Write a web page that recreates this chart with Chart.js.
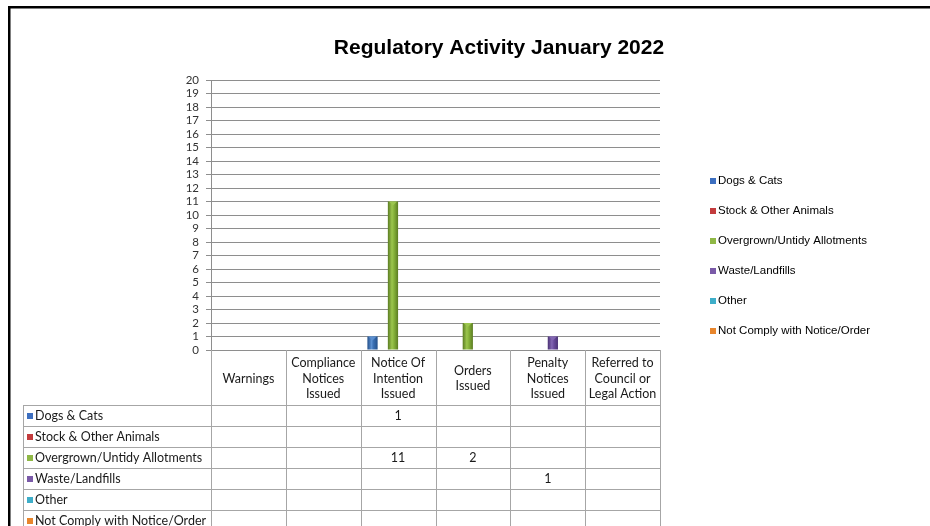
<!DOCTYPE html>
<html>
<head>
<meta charset="utf-8">
<script src="https://cdn.jsdelivr.net/npm/chart.js@4.4.1/dist/chart.umd.min.js"></script>
<style>
  html, body { margin: 0; padding: 0; background: #ffffff; }
  canvas { display: block; }
</style>
</head>
<body>
<canvas id="c" width="930" height="526"></canvas>
<script>
// ---------- DATA ----------
const chartTitle = 'Regulatory Activity January 2022';
const categories = [
  ['Warnings'],
  ['Compliance', 'Notices', 'Issued'],
  ['Notice Of', 'Intention', 'Issued'],
  ['Orders', 'Issued'],
  ['Penalty', 'Notices', 'Issued'],
  ['Referred to', 'Council or', 'Legal Action']
];
const seriesNames = [
  'Dogs & Cats',
  'Stock & Other Animals',
  'Overgrown/Untidy Allotments',
  'Waste/Landfills',
  'Other',
  'Not Comply with Notice/Order'
];
const dogsCats     = [null, null, 1,    null, null, null];
const stockAnimals = [null, null, null, null, null, null];
const overgrown    = [null, null, 11,   2,    null, null];
const wasteLand    = [null, null, null, null, 1,    null];
const otherVals    = [null, null, null, null, null, null];
const notComply    = [null, null, null, null, null, null];
const seriesValues = [dogsCats, stockAnimals, overgrown, wasteLand, otherVals, notComply];
const yTicks = { min: 0, max: 20, step: 1 };

// ---------- STYLE ----------
const seriesColors = [
  { base: '#3a6fb2', dark: '#24508a', light: '#5b8fd0', legend: '#3d6fc0' },
  { base: '#c0393b', dark: '#8f2426', light: '#dc5a5c', legend: '#c33b3d' },
  { base: '#86b23a', dark: '#5b7c22', light: '#9cc64e', legend: '#8fb846' },
  { base: '#6a4c9c', dark: '#4a3274', light: '#8367b3', legend: '#7a5aa8' },
  { base: '#3aa9c6', dark: '#23809a', light: '#5cc2dc', legend: '#3eaec9' },
  { base: '#e6842c', dark: '#b6611a', light: '#f3a04f', legend: '#e8862d' }
];
const CAT_PCT = 0.82;
const tableFont = '12.5px Lato, "Open Sans", sans-serif';
const gridColor = '#8e8e8e';
const tableLineColor = '#a6a6a6';

function barGradient(c) {
  const col = seriesColors[c.datasetIndex];
  const chart = c.chart;
  const xs = chart.scales && chart.scales.x;
  if (c.type !== 'data' || !xs || !isFinite(xs.left) || xs.right <= xs.left) return col.base;
  const n = categories.length;
  const catW = (xs.right - xs.left) / n;
  const groupW = catW * CAT_PCT;
  const slot = groupW / seriesNames.length;
  const center = xs.getPixelForValue(c.dataIndex);
  const l = center - groupW / 2 + c.datasetIndex * slot;
  const g = chart.ctx.createLinearGradient(l, 0, l + slot, 0);
  g.addColorStop(0, col.dark);
  g.addColorStop(0.4, col.light);
  g.addColorStop(0.6, col.base);
  g.addColorStop(1, col.dark);
  return g;
}

const datasets = seriesNames.map((name, i) => ({
  label: name,
  data: seriesValues[i],
  backgroundColor: barGradient,
  borderWidth: 0,
  categoryPercentage: CAT_PCT,
  barPercentage: 1.0
}));

// ---------- PLUGINS ----------
const framePlugin = {
  id: 'frame',
  afterDraw(chart) {
    const ctx = chart.ctx;
    ctx.save();
    ctx.fillStyle = '#000';
    ctx.fillRect(8, 6, chart.width - 8, 2.5);
    ctx.fillRect(8, 6, 2.5, chart.height - 6);
    ctx.restore();
  }
};

const barTopPlugin = {
  id: 'barTop',
  afterDatasetsDraw(chart) {
    const ctx = chart.ctx;
    ctx.save();
    chart.data.datasets.forEach((ds, di) => {
      const meta = chart.getDatasetMeta(di);
      meta.data.forEach((el, i) => {
        if (ds.data[i] == null) return;
        const w = el.width, l = el.x - w / 2, t = el.y;
        ctx.fillStyle = seriesColors[di].light;
        ctx.beginPath();
        ctx.moveTo(l + 1, t);
        ctx.lineTo(l + w - 1, t);
        ctx.lineTo(el.x, t + 4);
        ctx.closePath();
        ctx.fill();
      });
    });
    ctx.restore();
  }
};

const legendPlugin = {
  id: 'sideLegend',
  afterDraw(chart) {
    const ctx = chart.ctx;
    const x0 = chart.chartArea.right + 50;
    const yStart = 181, gap = 30;
    ctx.save();
    ctx.font = '11.5px "Liberation Sans", Arial, sans-serif';
    ctx.textBaseline = 'middle';
    ctx.textAlign = 'left';
    chart.data.datasets.forEach((ds, i) => {
      const y = yStart + i * gap;
      ctx.fillStyle = seriesColors[i].legend;
      ctx.fillRect(x0, y - 3, 6, 6);
      ctx.fillStyle = '#000';
      ctx.fillText(ds.label, x0 + 8, y);
    });
    ctx.restore();
  }
};

const tablePlugin = {
  id: 'dataTable',
  afterDraw(chart) {
    const ctx = chart.ctx;
    const xs = chart.scales.x;
    const area = chart.chartArea;
    const n = categories.length;
    const catW = (xs.right - xs.left) / n;
    const bounds = [];
    for (let i = 0; i <= n; i++) bounds.push(xs.left + i * catW);
    const headerTop = area.bottom;
    const headerBottom = headerTop + 55;
    const rowH = 21;
    const tableLeft = 23;
    const bottom = chart.height;

    ctx.save();
    ctx.strokeStyle = tableLineColor;
    ctx.lineWidth = 1;
    ctx.beginPath();
    bounds.forEach((bx) => {
      const x = Math.round(bx) + 0.5;
      ctx.moveTo(x, headerTop);
      ctx.lineTo(x, bottom);
    });
    ctx.moveTo(tableLeft + 0.5, headerBottom);
    ctx.lineTo(tableLeft + 0.5, bottom);
    for (let r = 0; r < seriesNames.length; r++) {
      const y = Math.round(headerBottom + r * rowH) + 0.5;
      ctx.moveTo(tableLeft, y);
      ctx.lineTo(Math.round(bounds[n]) + 1, y);
    }
    ctx.stroke();

    // header labels
    ctx.font = tableFont;
    ctx.fillStyle = '#1a1a1a';
    ctx.textAlign = 'center';
    ctx.textBaseline = 'middle';
    const lh = 15.5;
    const hc = (headerTop + headerBottom) / 2 + 1;
    categories.forEach((lines, i) => {
      const cx = xs.getPixelForValue(i);
      const y0 = hc - (lines.length - 1) * lh / 2;
      lines.forEach((ln, k) => ctx.fillText(ln, cx, y0 + k * lh));
    });

    // rows
    chart.data.datasets.forEach((ds, r) => {
      const yc = headerBottom + r * rowH + rowH / 2 + 0.5;
      ctx.fillStyle = seriesColors[r].legend;
      ctx.fillRect(tableLeft + 4, yc - 3, 6, 6);
      ctx.fillStyle = '#1a1a1a';
      ctx.textAlign = 'left';
      ctx.fillText(ds.label, tableLeft + 12, yc);
      ctx.textAlign = 'center';
      ds.data.forEach((v, i) => {
        if (v == null) return;
        ctx.fillText(String(v), xs.getPixelForValue(i), yc);
      });
    });
    ctx.restore();
  }
};

// ---------- CHART ----------
new Chart(document.getElementById('c'), {
  type: 'bar',
  data: {
    labels: categories,
    datasets: datasets
  },
  options: {
    responsive: false,
    animation: false,
    devicePixelRatio: 1,
    layout: { padding: { top: 0, left: 68, right: 0, bottom: 0 } },
    plugins: {
      legend: { display: false },
      tooltip: { enabled: false },
      title: {
        display: true,
        text: chartTitle,
        color: '#000',
        font: { family: '"Liberation Sans", Arial, sans-serif', size: 21, weight: 'bold' },
        padding: { top: 36, bottom: 19 }
      }
    },
    scales: {
      x: {
        type: 'category',
        offset: true,
        grid: { display: false },
        border: { display: false },
        ticks: { display: false },
        afterFit(s) { s.height = 176; }
      },
      y: {
        min: yTicks.min,
        max: yTicks.max,
        ticks: {
          stepSize: yTicks.step,
          autoSkip: false,
          color: '#333',
          padding: 7,
          font: { family: 'Lato, "Open Sans", sans-serif', size: 11.5 }
        },
        grid: { color: gridColor, tickLength: 5, drawTicks: true },
        border: { display: true, color: gridColor },
        afterFit(s) { s.width = 143; }
      },
      y2: {
        type: 'linear',
        position: 'right',
        display: true,
        grid: { display: false, drawTicks: false },
        border: { display: false },
        ticks: { display: false },
        afterFit(s) { s.width = 270; }
      }
    }
  },
  plugins: [barTopPlugin, tablePlugin, legendPlugin, framePlugin]
});
</script>
</body>
</html>
